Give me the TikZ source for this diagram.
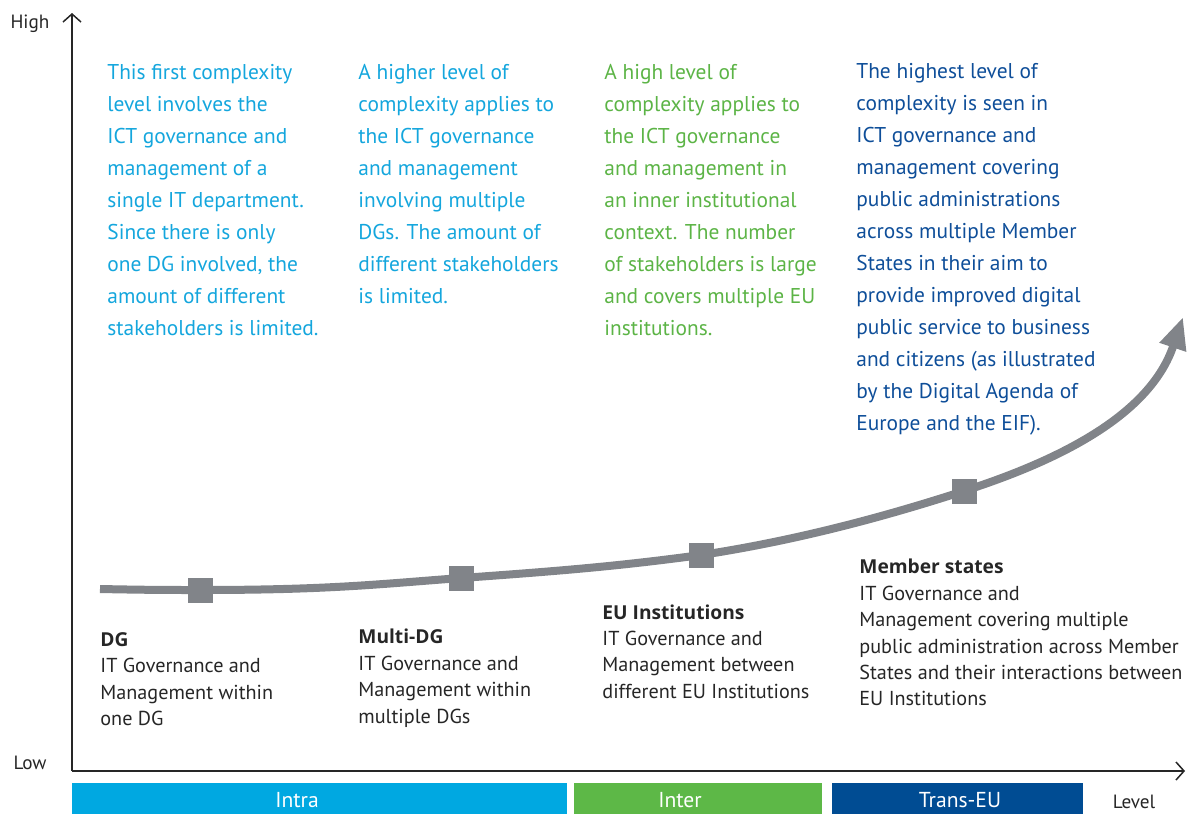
\documentclass[tikz,border=0pt]{standalone}
\usepackage{fontspec}
\setmainfont{PT Sans}
\newfontfamily\headfont{Open Sans}
\usepackage{xcolor}
\usetikzlibrary{arrows.meta,positioning}
\definecolor{intrablue}{HTML}{00A8E1}
\definecolor{intergreen}{HTML}{5DB847}
\definecolor{transblue}{HTML}{004C93}
\definecolor{curvegray}{HTML}{818489}
\definecolor{txtlight}{HTML}{14A6DD}
\definecolor{txtgreen}{HTML}{5CB446}
\definecolor{txtdark}{HTML}{0E4E99}
\definecolor{txtgray}{HTML}{262626}
\newcommand{\lvlhead}[1]{{\headfont\bfseries\fontsize{9.6}{13.2}\selectfont #1}}

\begin{document}
\begin{tikzpicture}[x=0.5pt, y=-0.5pt,
  axis/.style={draw=black!85, line width=0.75pt, -{Straight Barb[length=4pt, width=9pt]}},
  axlbl/.style={font=\fontsize{9.6}{11}\selectfont, text=txtgray, inner sep=0pt},
  levelbar/.style={minimum height=15.5pt, inner sep=0pt},
  bartxt/.style={text=white, font=\fontsize{10.8}{12}\selectfont, inner sep=0pt, yshift=-1pt},
  curve/.style={draw=curvegray, line width=4pt, -{Triangle[length=16pt, width=13pt]}},
  sqbox/.style={fill=curvegray, minimum size=12.5pt, inner sep=0pt},
  desc/.style={anchor=north west, inner sep=0pt, align=left, font=\fontsize{10.7}{16}\selectfont},
  lvl/.style={anchor=north west, inner sep=0pt, align=left, text=txtgray, font=\fontsize{10.1}{13.2}\selectfont}
]
\useasboundingbox (0,0) rectangle (1193,814);

\coordinate (o) at (72,771);
\coordinate (ytop) at (72,13);
\coordinate (xend) at (1185,771);
\draw[axis] (o) -- (ytop);
\draw[axis] (o) -- (xend);

\node[axlbl] (high) at (30,24) {High};
\node[axlbl] (low) at (30,763) {Low};
\node[axlbl] (level) at (1134,802) {Level};

\node[levelbar, fill=intrablue, minimum width=247.5pt, label={[bartxt, xshift=-11.25pt]center:Intra}] (intra) at (319.5,798.5) {};
\node[levelbar, fill=intergreen, minimum width=124pt, label={[bartxt, xshift=-9pt]center:Inter}] (inter) at (698,798.5) {};
\node[levelbar, fill=transblue, minimum width=125.5pt, label={[bartxt, xshift=1.25pt]center:Trans-EU}] (trans) at (957.5,798.5) {};

\coordinate (start) at (100,589);
\coordinate (p1) at (200,590);
\coordinate (p2) at (461,578);
\coordinate (p3) at (701,555);
\coordinate (p4) at (964,491);
\coordinate (tip) at (1183,317);
\draw[curve] (start) .. controls (150,590) and (170,590) .. (p1)
  .. controls (330,590) and (380,584) .. (p2)
  .. controls (560,571) and (620,566) .. (p3)
  .. controls (800,540) and (890,515) .. (p4)
  .. controls (1060,460) and (1150,415) .. (tip);

\node[sqbox] (dg) at (p1) {};
\node[sqbox] (multi) at (p2) {};
\node[sqbox] (euinst) at (p3) {};
\node[sqbox] (member) at (p4) {};

\node[desc, text=txtlight] (d1) at (107,64) {This first complexity\\level involves the\\ICT governance and\\management of a\\single IT department.\\Since there is only\\one DG involved, the\\amount of different\\stakeholders is limited.};
\node[desc, text=txtlight] (d2) at (358,64) {A higher level of\\complexity applies to\\the ICT governance\\and management\\involving multiple\\DGs. The amount of\\different stakeholders\\is limited.};
\node[desc, text=txtgreen] (d3) at (604,64) {A high level of\\complexity applies to\\the ICT governance\\and management in\\an inner institutional\\context. The number\\of stakeholders is large\\and covers multiple EU\\institutions.};
\node[desc, text=txtdark] (d4) at (856,63) {The highest level of\\complexity is seen in\\ICT governance and\\management covering\\public administrations\\across multiple Member\\States in their aim to\\provide improved digital\\public service to business\\and citizens (as illustrated\\by the Digital Agenda of\\Europe and the EIF).};

\node[lvl] (l1) at (100,632) {\lvlhead{DG}\\IT Governance and\\Management within\\one DG};
\node[lvl] (l2) at (358,629) {\lvlhead{Multi-DG}\\IT Governance and\\Management within\\multiple DGs};
\node[lvl] (l3) at (602,604) {\lvlhead{EU Institutions}\\IT Governance and\\Management between\\different EU Institutions};
\node[lvl] (l4) at (859,559) {\lvlhead{Member states}\\IT Governance and\\Management covering multiple\\public administration across Member\\States and their interactions between\\EU Institutions};
\end{tikzpicture}
\end{document}
